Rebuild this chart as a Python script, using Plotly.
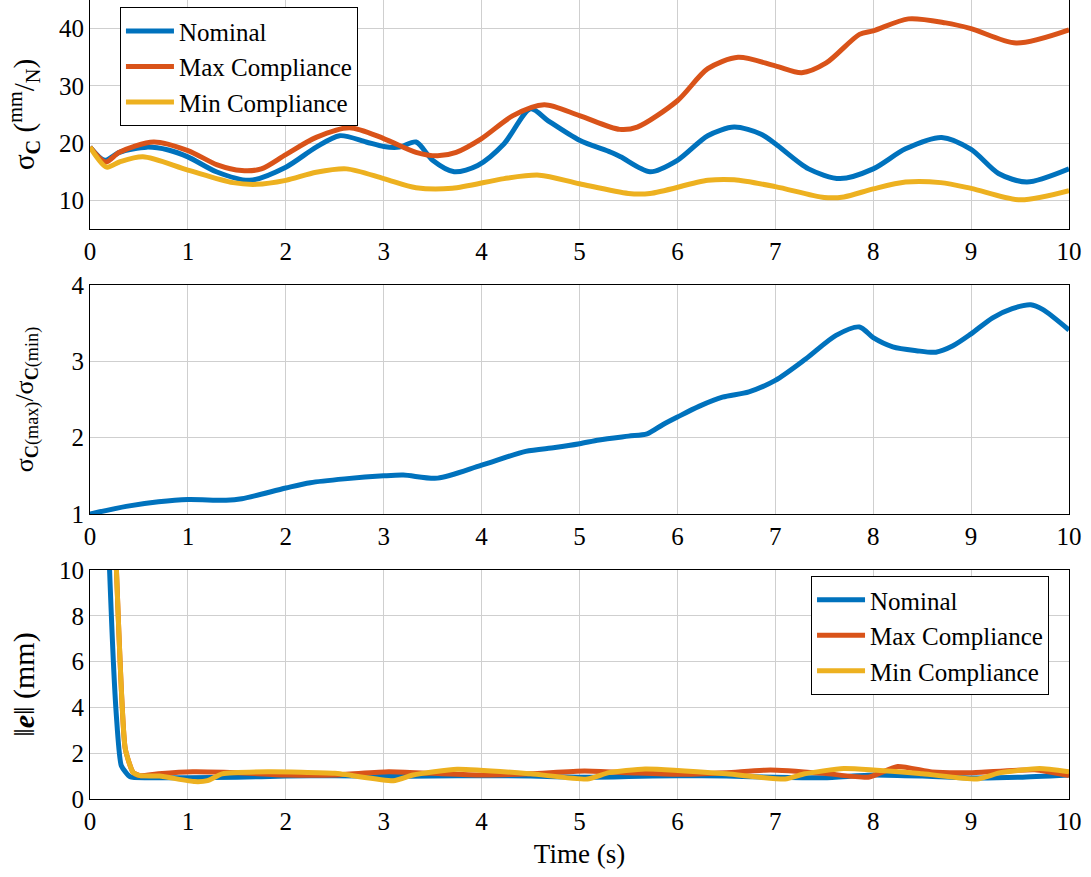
import plotly.graph_objects as go

# ---------------- data ----------------
# top panel: sigma_C (mm/N)
t_nom = [0, 0.15, 0.3, 0.58, 0.8, 1.0, 1.29, 1.63, 2.0, 2.31, 2.55, 2.82, 3.0, 3.16, 3.33, 3.5, 3.72, 3.96, 4.23, 4.5, 4.68, 5.0, 5.32, 5.42, 5.72, 6.0, 6.31, 6.58, 6.85, 7.0, 7.34, 7.66, 8.0, 8.33, 8.7, 9.0, 9.28, 9.57, 10]
s_nom = [19.3, 17.0, 18.4, 19.3, 18.8, 17.6, 15.0, 13.5, 15.8, 19.3, 21.3, 20.2, 19.4, 19.3, 20.2, 17.0, 15.0, 16.1, 19.9, 26.0, 23.9, 20.5, 18.4, 17.6, 15.0, 17.0, 21.3, 22.8, 21.6, 19.9, 15.5, 13.8, 15.5, 19.0, 21.0, 18.9, 14.7, 13.2, 15.5]

t_max = [0, 0.16, 0.3, 0.65, 1.0, 1.3, 1.55, 1.75, 2.0, 2.31, 2.65, 3.0, 3.33, 3.55, 3.74, 4.0, 4.32, 4.64, 5.0, 5.41, 5.59, 6.0, 6.31, 6.62, 7.0, 7.27, 7.52, 7.86, 8.0, 8.36, 8.74, 9.0, 9.46, 10]
s_max = [19.3, 16.7, 18.4, 20.2, 18.7, 16.2, 15.2, 15.5, 18.0, 21.0, 22.7, 20.8, 18.4, 17.8, 18.4, 20.8, 24.8, 26.7, 24.8, 22.4, 22.8, 27.4, 33.0, 35.0, 33.5, 32.3, 34.0, 39.0, 39.6, 41.7, 41.0, 40.0, 37.5, 39.8]

t_min = [0, 0.17, 0.3, 0.54, 1.0, 1.46, 1.7, 2.0, 2.31, 2.62, 3.0, 3.33, 3.7, 4.23, 4.59, 5.0, 5.5, 5.72, 6.31, 6.58, 7.0, 7.5, 7.7, 8.0, 8.33, 8.69, 9.0, 9.5, 10]
s_min = [19.3, 15.8, 16.7, 17.6, 15.3, 13.1, 12.8, 13.5, 14.9, 15.5, 13.8, 12.2, 12.1, 13.8, 14.4, 12.9, 11.2, 11.2, 13.5, 13.6, 12.4, 10.5, 10.6, 12.0, 13.2, 13.1, 12.1, 10.1, 11.7]

# middle panel: ratio sigma_C(max)/sigma_C(min)
t_ratio = [0, 0.37, 0.7, 1.0, 1.39, 1.55, 2.0, 2.25, 2.6, 3.0, 3.2, 3.55, 4.0, 4.45, 4.75, 5.0, 5.2, 5.5, 5.69, 5.85, 6.0, 6.22, 6.46, 6.73, 7.0, 7.31, 7.62, 7.86, 8.0, 8.2, 8.44, 8.64, 8.81, 9.0, 9.22, 9.42, 9.61, 9.73, 10]
ratio = [1.0, 1.1, 1.16, 1.19, 1.18, 1.2, 1.34, 1.41, 1.46, 1.5, 1.51, 1.47, 1.64, 1.82, 1.87, 1.92, 1.97, 2.02, 2.05, 2.17, 2.27, 2.41, 2.53, 2.6, 2.75, 3.03, 3.34, 3.45, 3.31, 3.19, 3.14, 3.12, 3.2, 3.36, 3.57, 3.69, 3.74, 3.68, 3.41]

# bottom panel: ||e|| (mm)
te_nom = [0, 0.2, 0.27, 0.32, 0.41, 0.6, 1.0, 1.5, 2.0, 2.5, 3.0, 3.5, 4.0, 4.5, 5.0, 5.5, 6.0, 6.5, 7.0, 7.5, 8.0, 8.5, 9.0, 9.5, 10]
e_nom = [40, 10, 3.6, 1.45, 0.97, 0.93, 0.93, 0.95, 1.0, 1.02, 0.98, 1.0, 1.02, 1.0, 0.95, 0.98, 1.02, 1.0, 0.95, 0.93, 1.05, 1.0, 0.92, 0.95, 1.05]

te_max = [0, 0.27, 0.36, 0.44, 0.51, 0.7, 1.05, 1.5, 2.0, 2.5, 3.05, 3.5, 4.0, 4.5, 5.05, 5.5, 6.0, 6.5, 6.95, 7.5, 7.95, 8.25, 8.6, 9.0, 9.65, 10]
e_max = [45, 10, 2.2, 1.16, 1.02, 1.1, 1.19, 1.15, 1.05, 1.05, 1.19, 1.12, 1.05, 1.1, 1.22, 1.15, 1.08, 1.15, 1.27, 1.12, 0.95, 1.42, 1.18, 1.15, 1.28, 1.02]

te_min = [0, 0.27, 0.36, 0.44, 0.51, 0.71, 1.07, 1.2, 1.35, 1.82, 2.5, 3.1, 3.3, 3.75, 4.5, 5.08, 5.3, 5.67, 6.5, 7.1, 7.3, 7.7, 8.5, 9.06, 9.3, 9.7, 10]
e_min = [45, 10, 2.2, 1.16, 1.02, 1.0, 0.76, 0.8, 1.1, 1.19, 1.12, 0.8, 1.05, 1.3, 1.1, 0.87, 1.15, 1.31, 1.1, 0.87, 1.1, 1.33, 1.1, 0.87, 1.15, 1.33, 1.19]

names = ["Nominal", "Max Compliance", "Min Compliance"]
x_ticks = list(range(0, 11))

# ---------------- style ----------------
C_BLUE, C_RED, C_YEL = "#0072BD", "#D95319", "#EDB120"
FONT = "Liberation Serif"
LW = 5

fig = go.Figure()

def add(x, y, name, color, xa, ya, legend, show, smooth=0.8):
    fig.add_trace(go.Scatter(
        x=x, y=y, name=name, mode="lines",
        line=dict(color=color, width=LW, shape="spline", smoothing=smooth),
        xaxis=xa, yaxis=ya, legend=legend, showlegend=show))

add(t_nom, s_nom, names[0], C_BLUE, "x", "y", "legend", True)
add(t_max, s_max, names[1], C_RED, "x", "y", "legend", True)
add(t_min, s_min, names[2], C_YEL, "x", "y", "legend", True)

add(t_ratio, ratio, "ratio", C_BLUE, "x2", "y2", "legend", False)

add(te_nom, e_nom, names[0], C_BLUE, "x3", "y3", "legend2", True, 0.5)
add(te_max, e_max, names[1], C_RED, "x3", "y3", "legend2", True, 0.5)
add(te_min, e_min, names[2], C_YEL, "x3", "y3", "legend2", True, 0.5)

axis_common = dict(
    showline=True, mirror=True, linecolor="black", linewidth=1.2,
    showgrid=True, gridcolor="#cfcfcf", gridwidth=1,
    zeroline=False, ticks="", automargin=False,
    tickfont=dict(family=FONT, size=25, color="black"),
)

xcommon = dict(axis_common, range=[0, 10], tickvals=x_ticks)

legend_common = dict(bgcolor="white", bordercolor="black", borderwidth=1,
                     font=dict(family=FONT, size=25), tracegroupgap=0,
                     itemwidth=48)

fig.update_layout(
    width=1091, height=877,
    margin=dict(l=90, r=22, t=0, b=78),
    paper_bgcolor="white", plot_bgcolor="white",
    font=dict(family=FONT, color="black"),
    xaxis=dict(xcommon, anchor="y", domain=[0, 1]),
    xaxis2=dict(xcommon, anchor="y2", domain=[0, 1]),
    xaxis3=dict(xcommon, anchor="y3", domain=[0, 1],
                title=dict(text="Time (s)", font=dict(family=FONT, size=27), standoff=10)),
    yaxis=dict(axis_common, anchor="x", domain=[0.7134, 1.0], range=[5, 45],
               tickvals=[10, 20, 30, 40],
               title=dict(text="σ<sub><b>C</b></sub> (<sup>mm</sup>/<sub>N</sub>)",
                          font=dict(family=FONT, size=29))),
    yaxis2=dict(axis_common, anchor="x2", domain=[0.3567, 0.6433], range=[1, 4],
                tickvals=[1, 2, 3, 4],
                title=dict(text="σ<sub><b>C</b>(max)</sub>/σ<sub><b>C</b>(min)</sub>",
                           font=dict(family=FONT, size=26), standoff=30)),
    yaxis3=dict(axis_common, anchor="x3", domain=[0.0, 0.2866], range=[0, 10],
                tickvals=[0, 2, 4, 6, 8, 10],
                title=dict(text="‖<b><i>e</i></b>‖ (mm)",
                           font=dict(family=FONT, size=30))),
    legend=dict(legend_common, x=0.0306, y=0.991, xanchor="left", yanchor="top"),
    legend2=dict(legend_common, x=0.9796, y=0.279, xanchor="right", yanchor="top"),
)

fig.write_html("out.html")
